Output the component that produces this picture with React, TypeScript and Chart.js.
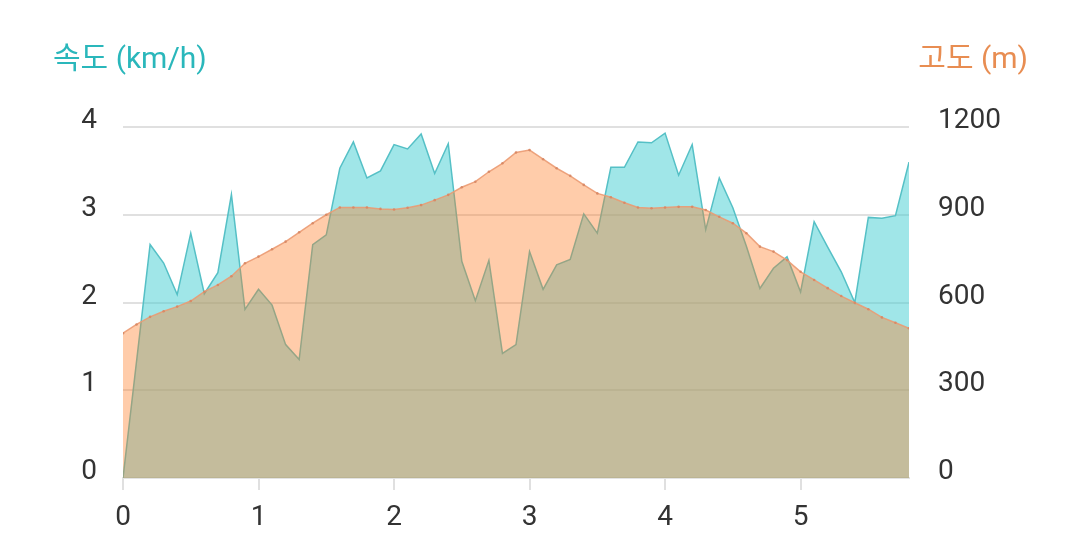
import React, { useEffect, useRef } from "react";
import { Chart, registerables } from "chart.js";

Chart.register(...registerables);

const distanceKm = [
  0, 0.1, 0.2, 0.3, 0.4, 0.5, 0.6, 0.7, 0.8, 0.9,
  1.0, 1.1, 1.2, 1.3, 1.4, 1.5, 1.6, 1.7, 1.8, 1.9,
  2.0, 2.1, 2.2, 2.3, 2.4, 2.5, 2.6, 2.7, 2.8, 2.9,
  3.0, 3.1, 3.2, 3.3, 3.4, 3.5, 3.6, 3.7, 3.8, 3.9,
  4.0, 4.1, 4.2, 4.3, 4.4, 4.5, 4.6, 4.7, 4.8, 4.9,
  5.0, 5.1, 5.2, 5.3, 5.4, 5.5, 5.6, 5.7, 5.8,
];

const speedKmh: (number | null)[] = [
  0, null, 2.66, 2.45, 2.09, 2.79, 2.1, 2.34, 3.23, 1.92,
  2.15, 1.97, 1.52, 1.35, 2.66, 2.77, 3.53, 3.83, 3.42, 3.5,
  3.8, 3.75, 3.92, 3.47, 3.81, 2.47, 2.02, 2.48, 1.42, 1.52,
  2.58, 2.15, 2.43, 2.49, 3.01, 2.79, 3.54, 3.54, 3.83, 3.82,
  3.93, 3.45, 3.8, 2.83, 3.42, 3.08, 2.64, 2.16, 2.39, 2.52,
  2.12, 2.92, 2.63, 2.35, 2.0, 2.97, 2.96, 2.99, 3.6,
];

const elevationM = [
  495, 525, 551, 570, 586, 605, 637, 660, 690, 734,
  757, 782, 808, 840, 871, 900, 925, 925, 925, 920,
  918, 924, 933, 950, 968, 994, 1013, 1047, 1076, 1113,
  1121, 1090, 1059, 1033, 1002, 973, 960, 941, 925, 922,
  925, 927, 927, 916, 893, 871, 837, 791, 774, 745,
  705, 677, 649, 622, 599, 577, 549, 531, 512,
];

const speedTicks = [0, 1, 2, 3, 4];
const elevationTicks = [0, 300, 600, 900, 1200];
const distanceTicks = [0, 1, 2, 3, 4, 5];

const speedTitle = "속도 (km/h)";
const elevationTitle = "고도 (m)";

const FONT = "Roboto, 'Noto Sans CJK KR', sans-serif";

export default function App() {
  const canvasRef = useRef<HTMLCanvasElement | null>(null);

  useEffect(() => {
    const canvas = canvasRef.current;
    if (!canvas) return;
    const chart = new Chart(canvas, {
      type: "line",
      data: {
        datasets: [
          {
            label: elevationTitle,
            data: distanceKm.map((d, i) => ({ x: d, y: elevationM[i] })),
            yAxisID: "yElev",
            borderColor: "rgba(235,155,115,0.9)",
            backgroundColor: "rgba(255,121,31,0.38)",
            borderWidth: 1.5,
            pointRadius: 1.3,
            pointBackgroundColor: "rgba(215,135,100,0.9)",
            pointBorderWidth: 0,
            fill: "origin",
            tension: 0,
          },
          {
            label: speedTitle,
            data: distanceKm.map((d, i) => ({ x: d, y: speedKmh[i] })),
            yAxisID: "ySpeed",
            borderColor: "rgba(85,192,198,1)",
            backgroundColor: "rgba(65,205,209,0.5)",
            borderWidth: 1.5,
            pointRadius: 0,
            fill: "origin",
            spanGaps: true,
            tension: 0,
          },
        ],
      },
      options: {
        responsive: false,
        animation: false,
        layout: { padding: { top: 127, left: 0, right: 0, bottom: 0 } },
        plugins: {
          legend: { display: false },
          tooltip: { enabled: false },
        },
        scales: {
          x: {
            type: "linear",
            min: 0,
            max: 5.8,
            afterBuildTicks: (scale: any) => {
              scale.ticks = distanceTicks.map((v) => ({ value: v }));
            },
            afterFit: (scale: any) => {
              scale.height = 74;
            },
            border: { display: true, color: "#e3e3e3", width: 2 },
            grid: {
              drawOnChartArea: false,
              drawTicks: true,
              tickLength: 12,
              color: "#e0e0e0",
              lineWidth: 2,
            },
            ticks: {
              color: "#333",
              font: { family: FONT, size: 28 },
              padding: 11,
              maxRotation: 0,
              callback: (v: any) => String(v),
            },
          },
          ySpeed: {
            type: "linear",
            position: "left",
            min: 0,
            max: 4,
            afterBuildTicks: (scale: any) => {
              scale.ticks = speedTicks.map((v) => ({ value: v }));
            },
            afterFit: (scale: any) => {
              scale.width = 123;
            },
            border: { display: false },
            grid: {
              drawTicks: false,
              color: "#e0e0e0",
              lineWidth: 2,
            },
            ticks: {
              color: "#333",
              font: { family: FONT, size: 28 },
              padding: 26,
              labelOffset: -6,
              callback: (v: any) => String(v),
            },
          },
          yElev: {
            type: "linear",
            position: "right",
            min: 0,
            max: 1200,
            afterBuildTicks: (scale: any) => {
              scale.ticks = elevationTicks.map((v) => ({ value: v }));
            },
            afterFit: (scale: any) => {
              scale.width = 171;
            },
            border: { display: false },
            grid: { display: false, drawTicks: false },
            ticks: {
              color: "#333",
              font: { family: FONT, size: 28 },
              padding: 29,
              labelOffset: -6,
              callback: (v: any) => String(v),
            },
          },
        },
      },
    });
    return () => chart.destroy();
  }, []);

  return (
    <div style={{ position: "fixed", left: 0, top: 0, width: 1080, height: 552, background: "#fff" }}>
      <canvas ref={canvasRef} width={1080} height={552} style={{ display: "block" }} />
      <div
        style={{
          position: "absolute",
          left: 53,
          top: 39,
          fontFamily: FONT,
          fontSize: 30,
          color: "#2ab7bb",
          lineHeight: "38px",
          whiteSpace: "nowrap",
        }}
      >
        {speedTitle}
      </div>
      <div
        style={{
          position: "absolute",
          right: 52,
          top: 39,
          fontFamily: FONT,
          fontSize: 30,
          color: "#e88d52",
          lineHeight: "38px",
          whiteSpace: "nowrap",
        }}
      >
        {elevationTitle}
      </div>
    </div>
  );
}
